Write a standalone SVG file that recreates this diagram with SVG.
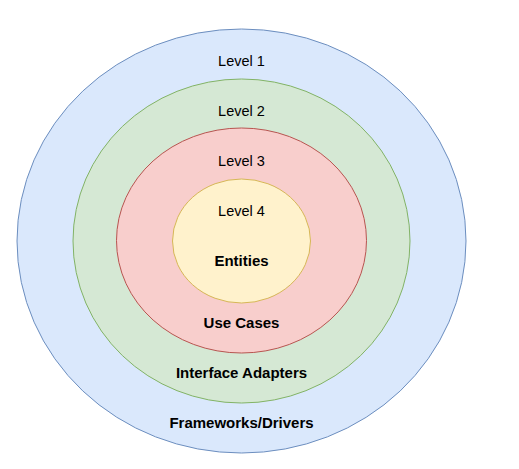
<svg xmlns="http://www.w3.org/2000/svg" width="519" height="469" viewBox="0 0 519 469">
<style>
.lbl{font-family:"Liberation Sans",Arial,sans-serif;font-size:14.5px;fill:#000;text-anchor:middle}
.b{font-weight:bold;font-size:15px}
ellipse{stroke-width:1}
</style>
<rect width="519" height="469" fill="#fff"/>
<g id="level1">
<ellipse cx="241.5" cy="241" rx="224.5" ry="212" fill="#dae8fc" stroke="#6c8ebf"/>
<text class="lbl" x="241.5" y="65.5">Level 1</text>
<text class="lbl b" x="241.5" y="427.5">Frameworks/Drivers</text>
</g>
<g id="level2">
<ellipse cx="241.5" cy="241" rx="168.5" ry="162" fill="#d5e8d4" stroke="#82b366"/>
<text class="lbl" x="241.5" y="116">Level 2</text>
<text class="lbl b" x="241.5" y="377.5">Interface Adapters</text>
</g>
<g id="level3">
<ellipse cx="241.5" cy="240.5" rx="125" ry="112.5" fill="#f8cecc" stroke="#b85450"/>
<text class="lbl" x="241.5" y="165.5">Level 3</text>
<text class="lbl b" x="241.5" y="328">Use Cases</text>
</g>
<g id="level4">
<ellipse cx="241.5" cy="241" rx="69" ry="62" fill="#fff2cc" stroke="#d6b656"/>
<text class="lbl" x="241.5" y="215.5">Level 4</text>
<text class="lbl b" x="241.5" y="266">Entities</text>
</g>
<g id="connectors"/>
</svg>
